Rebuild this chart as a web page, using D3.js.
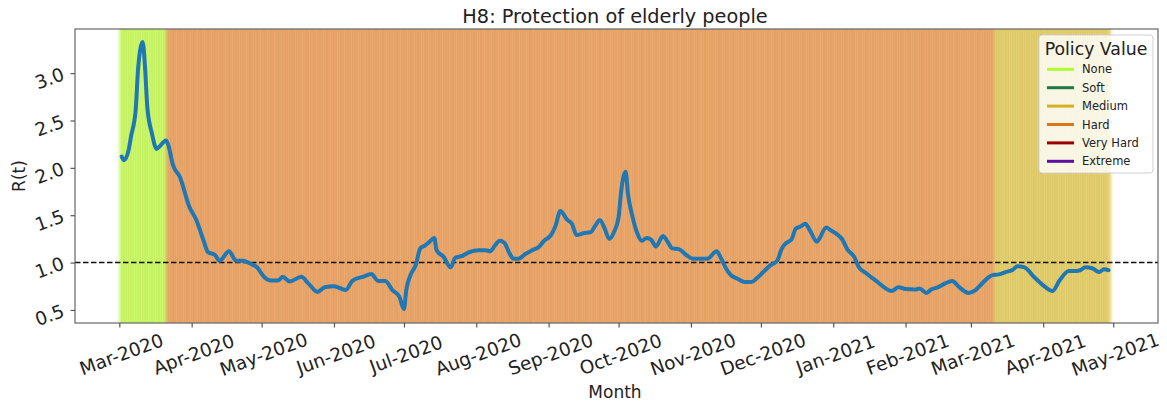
<!DOCTYPE html>
<html>
<head>
<meta charset="utf-8">
<script src="https://cdn.jsdelivr.net/npm/d3@7"></script>
<style>
  body { margin: 0; background: #fff; }
  text { font-family: "DejaVu Sans", sans-serif; fill: #222; }
</style>
</head>
<body>
<svg id="chart" width="1167" height="405"></svg>
<script>
// R(t): day offset from 2020-03-01 and value
var startDate = "2020-03-01";
var dayOffsets = [1, 2, 4, 5, 7, 8, 10, 11, 12, 14, 16, 17, 20, 21, 23, 26, 30, 33, 36, 38, 41, 43, 47, 50, 53, 56, 59, 62, 65, 68, 70, 73, 78, 81, 85, 88, 92, 97, 100, 105, 108, 111, 114, 117, 120, 122, 123, 125, 127, 129, 131, 133, 135, 136, 139, 142, 144, 147, 150, 154, 157, 159, 161, 163, 165, 167, 169, 171, 174, 177, 180, 182, 185, 187, 189, 192, 194, 196, 199, 202, 204, 206, 208, 210, 212, 214, 215, 217, 218, 220, 222, 224, 226, 228, 230, 233, 235, 237, 240, 243, 246, 249, 252, 256, 258, 260, 262, 265, 268, 271, 273, 276, 279, 282, 284, 286, 288, 290, 292, 294, 296, 299, 300, 303, 305, 307, 310, 312, 315, 317, 320, 322, 325, 328, 331, 334, 337, 341, 343, 346, 348, 351, 354, 357, 360, 364, 367, 370, 374, 377, 380, 383, 385, 388, 392, 396, 400, 403, 407, 410, 412, 414, 417, 420, 422, 424];
var rtValues = [2.12, 2.08, 2.19, 2.33, 2.61, 3.03, 3.33, 3.07, 2.64, 2.36, 2.20, 2.22, 2.29, 2.24, 2.03, 1.90, 1.59, 1.45, 1.24, 1.11, 1.08, 1.02, 1.12, 1.02, 1.02, 0.99, 0.95, 0.85, 0.81, 0.81, 0.85, 0.80, 0.85, 0.78, 0.69, 0.74, 0.75, 0.71, 0.81, 0.855, 0.88, 0.805, 0.805, 0.71, 0.64, 0.51, 0.71, 0.88, 0.97, 1.15, 1.18, 1.22, 1.26, 1.13, 1.06, 0.95, 1.05, 1.07, 1.11, 1.13, 1.13, 1.12, 1.18, 1.23, 1.21, 1.11, 1.04, 1.04, 1.09, 1.13, 1.17, 1.23, 1.29, 1.39, 1.545, 1.45, 1.41, 1.29, 1.31, 1.32, 1.39, 1.45, 1.36, 1.25, 1.32, 1.48, 1.73, 1.96, 1.73, 1.48, 1.31, 1.23, 1.26, 1.24, 1.17, 1.28, 1.22, 1.15, 1.14, 1.08, 1.04, 1.04, 1.04, 1.12, 1.04, 0.94, 0.87, 0.83, 0.795, 0.795, 0.83, 0.90, 0.97, 1.02, 1.15, 1.21, 1.24, 1.36, 1.38, 1.41, 1.34, 1.22, 1.25, 1.37, 1.34, 1.31, 1.24, 1.14, 1.06, 0.95, 0.89, 0.85, 0.795, 0.735, 0.70, 0.74, 0.72, 0.715, 0.725, 0.68, 0.715, 0.74, 0.78, 0.805, 0.74, 0.68, 0.71, 0.785, 0.865, 0.875, 0.90, 0.925, 0.96, 0.95, 0.85, 0.76, 0.70, 0.81, 0.91, 0.91, 0.92, 0.95, 0.94, 0.90, 0.93, 0.92];

// policy periods
var policyStarts = ["2020-03-01", "2020-03-21", "2021-03-11"];
var policyEnds = ["2020-03-21", "2021-03-11", "2021-04-30"];
var policyLevels = ["None", "Hard", "Medium"];

var legendLabels = ["None", "Soft", "Medium", "Hard", "Very Hard", "Extreme"];
var legendColors = ["#adff2f", "#1d7a45", "#d7b022", "#dc7514", "#990000", "#5b0fa3"];
var spanColors = { "None": "#c7f862", "Hard": "#e9a264", "Medium": "#e1cc66" };

var yTicks = [0.5, 1.0, 1.5, 2.0, 2.5, 3.0];

var svg = d3.select("#chart");
var margin = { left: 75, top: 29, right: 1158, bottom: 323 };
var parse = d3.utcParse("%Y-%m-%d");
var t0 = parse(startDate);
var dayMs = 864e5;

var x = d3.scaleUtc()
    .domain([new Date(t0.getTime() - 19 * dayMs), new Date(t0.getTime() + 445.2 * dayMs)])
    .range([margin.left, margin.right]);
var y = d3.scaleLinear().domain([0.362, 3.466]).range([margin.bottom, margin.top]);

var defs = svg.append("defs");
defs.append("clipPath").attr("id", "clip").append("rect")
    .attr("x", margin.left).attr("y", margin.top)
    .attr("width", margin.right - margin.left).attr("height", margin.bottom - margin.top);
var blur = defs.append("filter").attr("id", "soft").attr("x", "-5%").attr("width", "110%");
blur.append("feGaussianBlur").attr("stdDeviation", "1.6 0");

// daily background spans
var spans = [];
policyStarts.forEach(function (s, i) {
    var a = parse(s), b = parse(policyEnds[i]);
    for (var d = a; d < b; d = new Date(d.getTime() + dayMs)) {
        spans.push({ start: d, end: new Date(d.getTime() + dayMs), level: policyLevels[i] });
    }
});
var clipped = svg.append("g").attr("clip-path", "url(#clip)");
var bg = clipped.append("g").attr("filter", "url(#soft)");
bg.selectAll("rect").data(spans).enter().append("rect")
    .attr("x", function (d) { return x(d.start); })
    .attr("y", margin.top)
    .attr("width", function (d) { return x(d.end) - x(d.start); })
    .attr("height", margin.bottom - margin.top)
    .attr("fill", function (d) { return spanColors[d.level]; })
    .attr("stroke", function (d) { return spanColors[d.level]; })
    .attr("stroke-width", 0.25)
    .attr("stroke-opacity", 0.5);

// faint seams between the daily spans
clipped.append("g").selectAll("line").data(spans.slice(1, -1)).enter().append("line")
    .attr("x1", function (d) { return x(d.start); })
    .attr("x2", function (d) { return x(d.start); })
    .attr("y1", margin.top).attr("y2", margin.bottom)
    .attr("stroke", "#7a4a10").attr("stroke-opacity", 0.05).attr("stroke-width", 1);

// reference line at R=1
svg.append("line")
    .attr("x1", margin.left).attr("x2", margin.right)
    .attr("y1", y(1)).attr("y2", y(1))
    .attr("stroke", "#111").attr("stroke-width", 1.5).attr("stroke-dasharray", "5.5,2.5");

// R(t) curve
var points = dayOffsets.map(function (d, i) {
    return { date: new Date(t0.getTime() + d * dayMs), v: rtValues[i] };
});
svg.append("path").datum(points)
    .attr("clip-path", "url(#clip)")
    .attr("fill", "none").attr("stroke", "#1f77b4").attr("stroke-width", 4)
    .attr("stroke-linejoin", "round").attr("stroke-linecap", "round")
    .attr("d", d3.line().curve(d3.curveMonotoneX)
        .x(function (d) { return x(d.date); }).y(function (d) { return y(d.v); }));

// frame
svg.append("rect")
    .attr("x", margin.left).attr("y", margin.top)
    .attr("width", margin.right - margin.left).attr("height", margin.bottom - margin.top)
    .attr("fill", "none").attr("stroke", "#666").attr("stroke-width", 1.2);

// x axis
var monthTicks = d3.utcMonth.range(parse("2020-03-01"), parse("2021-05-02"));
var xAxis = d3.axisBottom(x).tickValues(monthTicks).tickFormat(d3.utcFormat("%b-%Y")).tickSize(4.5).tickPadding(17);
var gx = svg.append("g").attr("transform", "translate(0," + margin.bottom + ")").call(xAxis);
gx.select(".domain").remove();
gx.selectAll(".tick line").attr("stroke", "#555").attr("stroke-width", 1.2);
gx.selectAll(".tick text")
    .attr("font-size", 18.5).attr("fill", "#222")
    .attr("text-anchor", "middle")
    .attr("dy", "0.9em")
    .attr("transform", "rotate(-20 0 27)");

// y axis
var yAxis = d3.axisLeft(y).tickValues(yTicks).tickFormat(d3.format(".1f")).tickSize(4.5).tickPadding(7);
var gy = svg.append("g").attr("transform", "translate(" + margin.left + ",0)").call(yAxis);
gy.select(".domain").remove();
gy.selectAll(".tick line").attr("stroke", "#555").attr("stroke-width", 1.2);
gy.selectAll(".tick text")
    .attr("font-size", 18.5).attr("fill", "#222")
    .attr("transform", "rotate(-20 -11 0)");

// title and axis labels
svg.append("text").attr("x", 615).attr("y", 23).attr("text-anchor", "middle")
    .attr("font-size", 19.3).text("H8: Protection of elderly people");
svg.append("text").attr("x", 615).attr("y", 398).attr("text-anchor", "middle")
    .attr("font-size", 17).text("Month");
svg.append("text").attr("transform", "translate(25,176) rotate(-90)").attr("text-anchor", "middle")
    .attr("font-size", 17).text("R(t)");

// legend
var lg = svg.append("g").attr("transform", "translate(1039,35)");
lg.append("rect").attr("width", 114).attr("height", 138).attr("rx", 3)
    .attr("fill", "#fff").attr("fill-opacity", 0.82).attr("stroke", "#d0d0d0");
lg.append("text").attr("x", 57).attr("y", 20).attr("text-anchor", "middle")
    .attr("font-size", 17.3).text("Policy Value");
var items = lg.selectAll("g.item").data(legendLabels).enter().append("g")
    .attr("transform", function (d, i) { return "translate(0," + (34.3 + i * 18.4) + ")"; });
items.append("line").attr("x1", 8).attr("x2", 35).attr("y1", 0).attr("y2", 0)
    .attr("stroke", function (d, i) { return legendColors[i]; }).attr("stroke-width", 3);
items.append("text").attr("x", 43).attr("y", 4).attr("font-size", 11.5).text(function (d) { return d; });
</script>
</body>
</html>
